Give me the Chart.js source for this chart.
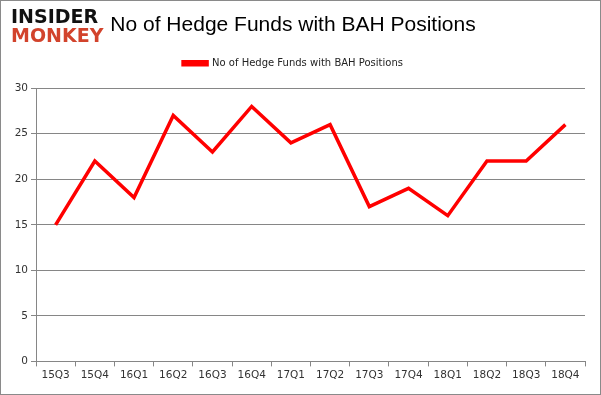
<!DOCTYPE html>
<html lang="en">
<head>
    <meta charset="UTF-8">
    <title>No of Hedge Funds with BAH Positions</title>
    <script src="https://cdn.jsdelivr.net/npm/chart.js"></script>
    <style>
        body { margin: 0; background: #fff; }
        #box { position: relative; width: 601px; height: 395px; box-sizing: border-box; border: 1px solid #8a8a8a; background: #fff; }
        #logo { position: absolute; left: 10px; top: 6px; font-family: "DejaVu Sans", sans-serif; font-weight: bold; line-height: 19px; font-size: 19px; }
        #logo .a { color: #111; }
        #logo .b { color: #d2432c; }
    </style>
</head>
<body>
<div id="box">
    <canvas id="hedgeChart" width="599" height="393"></canvas>
    <div id="logo"><div class="a">INSIDER</div><div class="b">MONKEY</div></div>
</div>
<script>
    // данные графика
    var quarters = ['15Q3', '15Q4', '16Q1', '16Q2', '16Q3', '16Q4', '17Q1', '17Q2', '17Q3', '17Q4', '18Q1', '18Q2', '18Q3', '18Q4'];
    var fundCounts = [15, 22, 18, 27, 23, 28, 24, 26, 17, 19, 16, 22, 22, 26];
    var seriesName = 'No of Hedge Funds with BAH Positions';

    // дополнительный отступ под легендой
    var legendGap = {
        id: 'legendGap',
        beforeInit: function (chart) {
            var fit = chart.legend.fit;
            chart.legend.fit = function () {
                fit.bind(chart.legend)();
                this.height += 10;
            };
        }
    };

    var ctx = document.getElementById('hedgeChart').getContext('2d');
    var hedgeChart = new Chart(ctx, {
        type: 'line',
        data: {
            labels: quarters,
            datasets: [{
                label: seriesName,
                data: fundCounts,
                borderColor: '#ff0000',
                backgroundColor: '#ff0000',
                borderWidth: 3.5,
                pointRadius: 0,
                tension: 0
            }]
        },
        options: {
            responsive: false,
            animation: false,
            layout: { padding: { left: 0, right: 15, top: 6, bottom: 9 } },
            plugins: {
                title: {
                    display: true,
                    text: seriesName,
                    color: '#000',
                    font: { family: 'Liberation Sans', size: 21, weight: 'normal' },
                    padding: { top: 6, bottom: 10 }
                },
                legend: {
                    labels: {
                        boxWidth: 24,
                        boxHeight: 3,
                        color: '#222',
                        font: { family: 'DejaVu Sans', size: 10 }
                    }
                },
                tooltip: { enabled: false }
            },
            scales: {
                x: {
                    offset: true,
                    grid: { display: true, drawOnChartArea: false, offset: true, color: '#868686', tickLength: 5 },
                    border: { color: '#868686' },
                    ticks: { color: '#333', font: { family: 'DejaVu Sans', size: 10.5 }, maxRotation: 0, autoSkip: false }
                },
                y: {
                    min: 0,
                    max: 30,
                    ticks: { stepSize: 5, color: '#333', font: { family: 'DejaVu Sans', size: 10.5 } },
                    grid: { color: '#868686', tickLength: 5 },
                    border: { color: '#868686' },
                    afterFit: function (axis) { axis.width = 35; }
                }
            }
        },
        plugins: [legendGap]
    });
</script>
</body>
</html>
